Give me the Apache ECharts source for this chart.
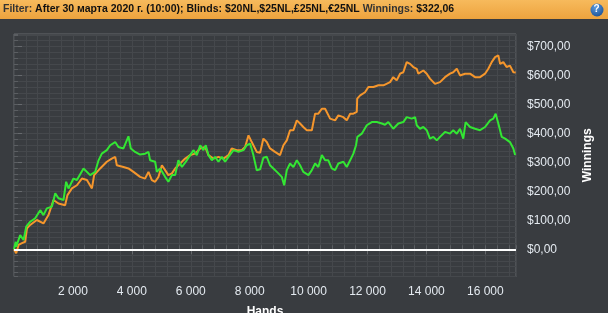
<!DOCTYPE html>
<html><head><meta charset="utf-8">
<script src="https://cdn.jsdelivr.net/npm/echarts@6/dist/echarts.min.js"></script>
<style>html,body{margin:0;padding:0;background:#393c40;}#c{width:608px;height:313px;}</style>
</head><body><div id="c"></div>
<script>
const orangeHands = [0,75,155,270,380,440,550,775,1000,1170,1340,1510,1735,1815,1965,2135,2305,2475,2645,2720,2925,3150,3320,3435,3490,3715,3885,4055,4280,4450,4565,4680,4790,4905,5020,5130,5240,5360,5470,5580,5700,5810,5980,6150,6320,6490,6600,6770,6940,7110,7280,7390,7560,7730,7845,7960,8070,8240,8355,8465,8580,8690,8860,9030,9145,9260,9370,9485,9600,9710,9820,9940,10110,10220,10330,10450,10560,10730,10900,11010,11180,11295,11410,11520,11635,11650,11750,11915,12030,12200,12370,12540,12600,12765,12875,12990,13105,13215,13330,13445,13555,13670,13725,13895,14010,14120,14290,14460,14630,14800,14910,15030,15140,15310,15480,15650,15820,15990,16100,16215,16330,16440,16500,16610,16720,16835,16950,17030];
const orangeWinnings = [0,-14,15,21,26,72,84,101,89,118,170,158,152,187,210,221,244,239,210,256,279,302,313,319,290,284,279,267,250,244,267,239,233,250,290,273,256,262,279,290,302,313,325,330,348,353,325,313,319,313,325,348,342,342,353,393,370,336,333,382,370,348,336,325,359,376,411,411,445,434,422,411,411,468,468,485,485,451,445,462,456,445,468,468,474,520,531,542,560,560,566,566,560,577,594,583,606,611,646,640,629,623,606,617,606,589,571,577,594,606,611,623,600,606,606,594,594,606,623,646,663,669,640,646,629,634,611,610];
const greenHands = [0,60,75,210,325,415,550,720,890,1000,1115,1285,1400,1510,1680,1770,1850,2020,2135,2360,2585,2755,2870,2980,3150,3265,3435,3545,3715,3885,3965,4110,4280,4450,4565,4620,4790,4850,4960,5130,5240,5360,5470,5580,5700,5865,5980,6090,6205,6320,6430,6510,6600,6715,6825,6940,7055,7165,7280,7450,7620,7790,7900,8015,8125,8240,8355,8465,8580,8690,8805,8975,9090,9170,9260,9370,9485,9600,9710,9820,9995,10110,10220,10330,10450,10560,10670,10785,10900,11010,11180,11295,11410,11520,11610,11655,11805,11975,12145,12315,12485,12595,12705,12765,12875,13045,13215,13330,13500,13615,13670,13780,13895,14010,14120,14235,14350,14460,14630,14800,14910,15030,15140,15250,15330,15480,15650,15820,15990,16160,16270,16350,16440,16555,16670,16835,16950,17010];
const greenWinnings = [0,26,9,49,32,78,95,107,135,118,141,147,193,176,170,233,210,244,239,279,256,267,307,330,342,359,370,353,348,390,348,336,327,330,336,307,302,267,279,250,233,256,256,307,284,307,325,342,325,359,342,359,325,307,319,302,319,302,319,342,336,342,359,365,325,273,276,316,319,290,279,262,250,221,273,296,284,307,290,267,256,273,296,284,325,307,307,279,273,296,302,284,307,330,359,388,399,428,439,439,434,430,439,434,416,434,439,456,451,456,428,416,422,411,382,388,376,388,405,399,411,399,416,382,439,422,416,411,422,445,451,468,434,388,382,370,348,325];
const yTickLabels = ['$0,00','$100,00','$200,00','$300,00','$400,00','$500,00','$600,00','$700,00'];
const headerParts = ['Filter: ','After 30 марта 2020 г. (10:00); Blinds: $20NL,$25NL,£25NL,€25NL',' Winnings: ','$322,06'];

const zip = (a,b)=>a.map((v,i)=>[v,b[i]]);
const fmtK = v => String(v).replace(/\B(?=(\d{3})+(?!\d))/g,' ');
const labelColor = '#e4eaf0';
const chart = echarts.init(document.getElementById('c'), null, {renderer:'canvas'});
const X_MAX = 17040, Y_MIN = -94, Y_MAX = 743;
chart.setOption({
  backgroundColor:'#393c40',
  animation:false,
  title:{
    left:3, top:4, padding:0,
    text:'{n|'+headerParts[0]+'}{b|'+headerParts[1]+'}{n|'+headerParts[2]+'}{b|'+headerParts[3]+'}',
    textStyle:{rich:{
      n:{fontFamily:'Liberation Sans',fontSize:10.5,color:'#333333'},
      b:{fontFamily:'Liberation Sans',fontSize:10.5,fontWeight:'bold',color:'#111111'}
    }}
  },
  graphic:[
    {type:'rect',z:-1,shape:{x:0,y:0,width:608,height:19},style:{fill:new echarts.graphic.LinearGradient(0,0,0,1,[{offset:0,color:'#f7ba5c'},{offset:1,color:'#eda33e'}])}},
    {type:'circle',z:10,shape:{cx:597,cy:10,r:6.5},style:{fill:new echarts.graphic.RadialGradient(0.4,0.3,0.8,[{offset:0,color:'#5a9be0'},{offset:1,color:'#1a4d8f'}])}},
    {type:'text',z:11,left:593.5,top:4,style:{text:'?',fill:'#ffffff',font:'bold 10px Liberation Sans'}}
  ],
  grid:{left:14,right:92,top:34,bottom:36.5,show:true,borderColor:'#66696d',borderWidth:1,containLabel:false,outerBoundsMode:'none'},
  xAxis:[
    {type:'value',min:0,max:X_MAX,interval:2000,
     axisLine:{show:false},
     axisTick:{show:true,length:5,lineStyle:{color:'#66696d'}},
     axisLabel:{color:labelColor,fontFamily:'Liberation Sans',fontSize:12,margin:9,showMinLabel:false,showMaxLabel:false,formatter:v=>fmtK(v)},
     splitLine:{show:true,lineStyle:{color:'#5b5e62',width:1}},
     name:'Hands',nameLocation:'middle',nameGap:29,
     nameTextStyle:{color:'#ffffff',fontFamily:'Liberation Sans',fontSize:12,fontWeight:'bold'}},
    {type:'value',min:0,max:X_MAX,interval:400,z:0,
     axisLine:{show:false},
     axisTick:{show:true,length:4,lineStyle:{color:'#5b5e62'}},
     axisLabel:{show:false},
     splitLine:{show:true,lineStyle:{color:'#45484c',width:1}}}
  ],
  yAxis:[
    {type:'value',position:'right',min:Y_MIN,max:Y_MAX,splitNumber:8,
     axisLine:{show:false},
     axisTick:{show:true,length:8,lineStyle:{color:'#66696d'}},
     axisLabel:{color:labelColor,fontFamily:'Liberation Sans',fontSize:12,margin:11,showMinLabel:false,showMaxLabel:false,
       formatter:v=>{const i=Math.round(v/100);return (v%100===0&&i>=0&&i<yTickLabels.length)?yTickLabels[i]:'';}},
     splitLine:{show:true,lineStyle:{color:'#5b5e62',width:1}},
     name:'Winnings',nameLocation:'middle',nameRotate:90,nameGap:58,
     nameTextStyle:{color:'#ffffff',fontFamily:'Liberation Sans',fontSize:12,fontWeight:'bold'}},
    {type:'value',position:'right',min:Y_MIN,max:Y_MAX,splitNumber:42,
     axisLine:{show:false},
     axisTick:{show:true,length:4,lineStyle:{color:'#5b5e62'}},
     axisLabel:{show:false},
     splitLine:{show:true,lineStyle:{color:'#45484c',width:1}}}
  ],
  series:[
    {name:'Orange',type:'line',data:zip(orangeHands,orangeWinnings),showSymbol:false,
     lineStyle:{color:'#f5962c',width:2},itemStyle:{color:'#f5962c'},z:3},
    {name:'Green',type:'line',data:zip(greenHands,greenWinnings),showSymbol:false,
     lineStyle:{color:'#33e633',width:2},itemStyle:{color:'#33e633'},z:4,
     markLine:{silent:true,symbol:['none','none'],label:{show:false},
       lineStyle:{color:'#ffffff',width:2,type:'solid'},data:[{yAxis:0}]}}
  ]
});
</script></body></html>
